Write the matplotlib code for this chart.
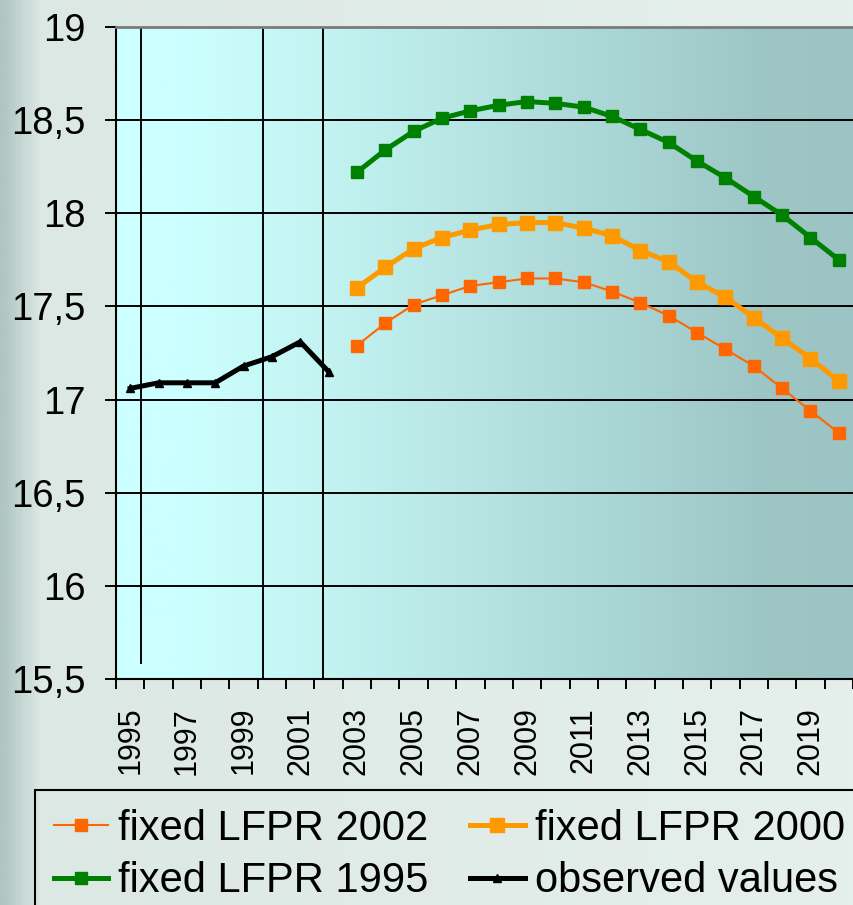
import numpy as np
import matplotlib.pyplot as plt
from matplotlib.colors import LinearSegmentedColormap

# Data
years = list(range(1995, 2021))
observed = [17.06, 17.09, 17.09, 17.09, 17.18, 17.23, 17.31, 17.15]  # 1995-2002
lfpr_2002 = [17.29, 17.41, 17.51, 17.56, 17.61, 17.63, 17.65, 17.65, 17.63,
             17.58, 17.52, 17.45, 17.36, 17.27, 17.18, 17.06, 16.94, 16.82]  # 2003-2020
lfpr_2000 = [17.60, 17.71, 17.81, 17.87, 17.91, 17.94, 17.95, 17.95, 17.92,
             17.88, 17.80, 17.74, 17.63, 17.55, 17.44, 17.33, 17.22, 17.10]
lfpr_1995 = [18.22, 18.34, 18.44, 18.51, 18.55, 18.58, 18.60, 18.59, 18.57,
             18.52, 18.45, 18.38, 18.28, 18.19, 18.09, 17.99, 17.87, 17.75]
# hand-drawn vertical divider lines (in year units)
dividers = [1995.39, 1999.67, 2001.8]
divider_bottoms = [15.58, 15.5, 15.5]

plt.rcParams['font.family'] = ['Liberation Sans', 'DejaVu Sans']

fig = plt.figure(figsize=(8.54, 9.05), dpi=100)
fig.patch.set_facecolor('#E3EEEA')

# figure background with darker left edge
bg = fig.add_axes([0, 0, 1, 1], zorder=-10)
bg_cmap = LinearSegmentedColormap.from_list(
    'bg', [(0, '#AFC6C1'), (0.045, '#DCE8E4'), (1, '#E5F0EC')])
bg.imshow(np.linspace(0, 1, 400)[None, :], cmap=bg_cmap, aspect='auto',
          extent=[0, 1, 0, 1])
bg.axis('off')

ax = fig.add_axes([116 / 854, 1 - 679 / 905, 737 / 854, 652 / 905])

# plot area gradient
plot_cmap = LinearSegmentedColormap.from_list(
    'plot', [(0, '#CCFFFF'), (0.087, '#CCFFFF'), (0.28, '#C3F4F2'),
             (0.6, '#AFDCDB'), (0.887, '#9CC6C5'), (1, '#9CC4C4')])
ax.imshow(np.linspace(0, 1, 500)[None, :], cmap=plot_cmap, aspect='auto',
          extent=[0, 1, 0, 1], transform=ax.transAxes, zorder=0)

x = np.arange(len(years))
x_obs = x[:len(observed)]
x_proj = x[len(observed):]

l2002, = ax.plot(x_proj, lfpr_2002, color='#FF6600', lw=1.5, marker='s', ms=8,
                 label='fixed LFPR 2002', zorder=4)
l2000, = ax.plot(x_proj, lfpr_2000, color='#FF9900', lw=3.6, marker='s', ms=10,
                 label='fixed LFPR 2000', zorder=4)
l1995, = ax.plot(x_proj, lfpr_1995, color='#008000', lw=3.6, marker='s', ms=8.5,
                 label='fixed LFPR 1995', zorder=4)
lobs, = ax.plot(x_obs, observed, color='black', lw=3.6, marker='^', ms=6,
                label='observed values', zorder=4)

for d, b in zip(dividers, divider_bottoms):
    ax.vlines(d - years[0], b, 19, color='black', lw=1.4, zorder=2)

ax.set_xlim(-0.5, len(years) - 0.5)
ax.set_ylim(15.5, 19)

# y axis
yt = np.arange(15.5, 19.01, 0.5)
ax.set_yticks(yt)
ax.set_yticklabels([f'{v:g}'.replace('.', ',') for v in yt], fontsize=27.5)
ax.yaxis.grid(True, color='black', lw=1.4, zorder=1)
ax.set_axisbelow(True)
ax.tick_params(axis='y', length=8, width=1.4, pad=14)

# x axis: ticks between categories, labels every other year
ax.set_xticks(np.arange(-0.5, len(years), 1))
ax.set_xticklabels([])
ax.set_xticks(x[::2], minor=True)
ax.set_xticklabels([str(y) for y in years[::2]], minor=True, rotation=90,
                   fontsize=22)
ax.tick_params(axis='x', which='major', length=7.5, width=1.4)
ax.tick_params(axis='x', which='minor', length=0, pad=20)

for s in ['left', 'bottom']:
    ax.spines[s].set_linewidth(1.5)
ax.spines['top'].set_color('#7A7A7A')
ax.spines['top'].set_linewidth(2)
ax.spines['right'].set_visible(False)

leg = ax.legend([l2002, l1995, l2000, lobs],
                ['fixed LFPR 2002', 'fixed LFPR 1995', 'fixed LFPR 2000', 'observed values'],
                ncol=2, loc='upper left', bbox_to_anchor=(35 / 854, 1 - 790 / 905),
                bbox_transform=fig.transFigure, fontsize=30, borderaxespad=0,
                borderpad=0.45, handlelength=1.3, handletextpad=0.25,
                columnspacing=1.0, labelspacing=0.3, fancybox=False,
                edgecolor='black', facecolor='none', framealpha=1)
leg.get_frame().set_linewidth(1.5)

plt.savefig('out.png', dpi=100)
